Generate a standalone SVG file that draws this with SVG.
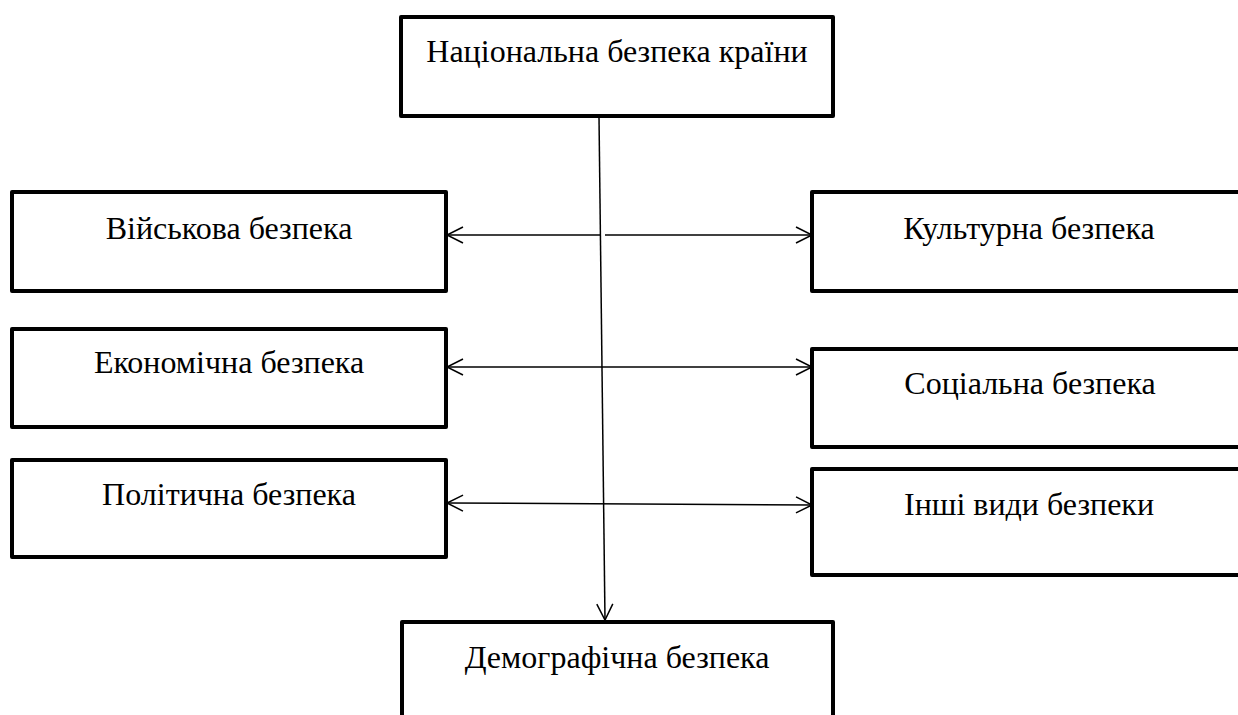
<svg xmlns="http://www.w3.org/2000/svg" width="1238" height="715" viewBox="0 0 1238 715">
<defs>
<style>
.box{fill:#fff;stroke:#000;stroke-width:4;stroke-linejoin:round}
.lbl{font-family:"Liberation Serif","Times New Roman",serif;font-size:32px;fill:#000;text-anchor:middle}
.con{stroke:#000;stroke-width:1.5;fill:none}
</style>
<marker id="arr" viewBox="0 0 20 20" refX="18" refY="10" markerWidth="20" markerHeight="20" markerUnits="userSpaceOnUse" orient="auto-start-reverse">
<path d="M2,2 L18,10 L2,18" fill="none" stroke="#000" stroke-width="1.5"/>
</marker>
</defs>
<g id="n-national"><rect class="box" x="401" y="17" width="432" height="99"/><text class="lbl" x="617" y="62">Національна безпека країни</text></g>
<g id="n-military"><rect class="box" x="12" y="192" width="434" height="99"/><text class="lbl" x="229" y="239">Військова безпека</text></g>
<g id="n-cultural"><rect class="box" x="812" y="192" width="440" height="99"/><text class="lbl" x="1029" y="239">Культурна безпека</text></g>
<g id="n-economic"><rect class="box" x="12" y="329" width="434" height="98"/><text class="lbl" x="229" y="373">Економічна безпека</text></g>
<g id="n-social"><rect class="box" x="812" y="349" width="440" height="98"/><text class="lbl" x="1030" y="394">Соціальна безпека</text></g>
<g id="n-political"><rect class="box" x="12" y="460" width="434" height="97"/><text class="lbl" x="229" y="505">Політична безпека</text></g>
<g id="n-other"><rect class="box" x="812" y="469" width="440" height="106"/><text class="lbl" x="1029" y="515">Інші види безпеки</text></g>
<g id="n-demographic"><rect class="box" x="402" y="622" width="431" height="110"/><text class="lbl" x="617" y="668">Демографічна безпека</text></g>
<g id="connectors">
<line class="con" x1="599" y1="117" x2="605" y2="620" marker-end="url(#arr)"/>
<line class="con" x1="600" y1="235" x2="447" y2="235" marker-end="url(#arr)"/>
<line class="con" x1="605" y1="235" x2="812" y2="235" marker-end="url(#arr)"/>
<line class="con" x1="447" y1="367" x2="812" y2="367" marker-start="url(#arr)" marker-end="url(#arr)"/>
<line class="con" x1="447" y1="503" x2="812" y2="505" marker-start="url(#arr)" marker-end="url(#arr)"/>
</g>
</svg>
